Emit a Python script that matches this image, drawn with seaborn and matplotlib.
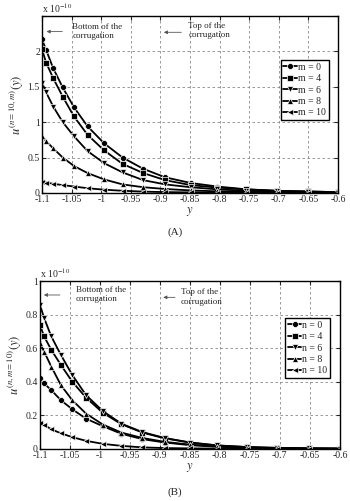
import numpy as np
import pandas as pd
import seaborn as sns
import matplotlib
matplotlib.use("Agg")
import matplotlib.pyplot as plt
from matplotlib.ticker import FuncFormatter, MultipleLocator

# grid nodes along y (same for every curve)
y_nodes = [-1.1, -1.093, -1.081, -1.065, -1.046, -1.023, -0.995, -0.964,
           -0.929, -0.892, -0.849, -0.804, -0.755, -0.704, -0.651, -0.6]

# panel A: u^(n=10,m)(y), units of 1e-10
m_labels = ["m = 0", "m = 4", "m = 6", "m = 8", "m = 10"]
u_m0 = [2.17, 2.02, 1.76, 1.49, 1.21, 0.94, 0.70, 0.50, 0.34, 0.22, 0.14, 0.09, 0.05, 0.03, 0.02, 0.01]
u_m4 = [2.03, 1.84, 1.62, 1.36, 1.08, 0.82, 0.60, 0.41, 0.28, 0.18, 0.11, 0.075, 0.05, 0.03, 0.02, 0.01]
u_m6 = [1.56, 1.42, 1.22, 1.00, 0.80, 0.59, 0.42, 0.29, 0.18, 0.12, 0.08, 0.05, 0.03, 0.02, 0.01, 0.005]
u_m8 = [0.81, 0.73, 0.63, 0.50, 0.38, 0.28, 0.19, 0.12, 0.08, 0.055, 0.035, 0.022, 0.013, 0.008, 0.004, 0.002]
u_m10 = [0.16, 0.146, 0.128, 0.11, 0.09, 0.066, 0.045, 0.03, 0.018, 0.011, 0.007, 0.004, 0.002, 0.001, 0.0007, 0.0004]

# panel B: u^(n,m=10)(y), units of 1e-10
n_labels = ["n = 0", "n = 4", "n = 6", "n = 8", "n = 10"]
u_n0 = [0.42, 0.39, 0.35, 0.29, 0.236, 0.18, 0.135, 0.09, 0.058, 0.038, 0.022, 0.013, 0.007, 0.004, 0.002, 0.001]
u_n4 = [0.74, 0.67, 0.59, 0.50, 0.40, 0.305, 0.215, 0.147, 0.097, 0.063, 0.037, 0.02, 0.011, 0.006, 0.003, 0.002]
u_n6 = [0.86, 0.78, 0.67, 0.56, 0.44, 0.32, 0.225, 0.15, 0.10, 0.065, 0.038, 0.021, 0.011, 0.006, 0.003, 0.002]
u_n8 = [0.63, 0.58, 0.49, 0.38, 0.29, 0.21, 0.145, 0.097, 0.065, 0.042, 0.025, 0.014, 0.008, 0.004, 0.002, 0.001]
u_n10 = [0.157, 0.143, 0.117, 0.093, 0.07, 0.048, 0.03, 0.018, 0.009, 0.005, 0.003, 0.002, 0.001, 0.0005, 0.0003, 0.0002]

markers = ["o", "s", "v", "^", "<"]

sns.set_style("ticks")
plt.rcParams["font.family"] = ["Liberation Serif", "DejaVu Serif"]
plt.rcParams["mathtext.fontset"] = "stix"
plt.rcParams["axes.unicode_minus"] = False


def make_df(labels, series, col):
    rows = []
    for lab, vals in zip(labels, series):
        for yy, uu in zip(y_nodes, vals):
            rows.append({"y": yy, "u": uu, col: lab})
    return pd.DataFrame(rows)


def draw(ax, df, col, labels, ymax, ystep, ylab, leg_top):
    sns.lineplot(data=df, x="y", y="u", style=col, style_order=labels,
                 markers=markers, dashes=False, color="k", linewidth=1.3,
                 markersize=4.3, markeredgewidth=0.5, sort=True, ax=ax)
    ax.set_xlim(-1.1, -0.6)
    ax.set_ylim(0, ymax)
    ax.xaxis.set_major_locator(MultipleLocator(0.05))
    ax.yaxis.set_major_locator(MultipleLocator(ystep))
    fmt = FuncFormatter(lambda v, p: "%g" % round(v, 3))
    ax.xaxis.set_major_formatter(fmt)
    ax.yaxis.set_major_formatter(fmt)
    ax.grid(True, linestyle=(0, (3, 3)), color="#888888", linewidth=0.6)
    ax.tick_params(direction="in", length=3, labelsize=7, pad=1.5,
                   top=True, right=True, width=0.8)
    for s in ax.spines.values():
        s.set_linewidth(1.0)
        s.set_color("k")
    ax.set_xlabel(r"$y$", fontsize=9, labelpad=1)
    ax.set_ylabel(ylab, fontsize=9, labelpad=1)
    ax.text(0.0, 1.005, r"x 10$^{-10}$", transform=ax.transAxes,
            fontsize=7, ha="left", va="bottom")
    h, l = ax.get_legend_handles_labels()
    leg = ax.legend(h, l, loc="upper right", bbox_to_anchor=(0.985, leg_top),
                    fontsize=7, handlelength=1.4, handletextpad=0.1,
                    labelspacing=0.25, borderpad=0.3, frameon=True,
                    fancybox=False, shadow=False, framealpha=1)
    leg.get_frame().set_edgecolor("k")
    leg.get_frame().set_linewidth(1.0)


fig = plt.figure(figsize=(3.5, 5.01), dpi=100)
axA = fig.add_axes([0.12, 0.615, 0.846, 0.353])
axB = fig.add_axes([0.114, 0.104, 0.857, 0.335])

dfA = make_df(m_labels, [u_m0, u_m4, u_m6, u_m8, u_m10], "m")
dfB = make_df(n_labels, [u_n0, u_n4, u_n6, u_n8, u_n10], "n")

draw(axA, dfA, "m", m_labels, 2.5, 0.5, r"$u^{(n=10,m)}(y)$", 0.78)
draw(axB, dfB, "n", n_labels, 1.0, 0.2, r"$u^{(n,m=10)}(y)$", 0.81)

# hide the 2.5 label under the multiplier in panel A
axA.set_yticks([0, 0.5, 1, 1.5, 2, 2.5])
axA.set_yticklabels(["0", "0.5", "1", "1.5", "2", ""])

arrow = dict(arrowstyle="-|>", color="#555555", lw=0.6, mutation_scale=5)
axA.annotate("", xy=(-1.097, 2.28), xytext=(-1.061, 2.28), arrowprops=arrow)
axA.text(-1.049, 2.28, "Bottom of the\ncorrugation", fontsize=6.5, va="center", ha="left")
axA.annotate("", xy=(-0.899, 2.27), xytext=(-0.86, 2.27), arrowprops=arrow)
axA.text(-0.853, 2.29, "Top of the\ncorrugation", fontsize=6.5, va="center", ha="left")

axB.annotate("", xy=(-1.098, 0.917), xytext=(-1.062, 0.917), arrowprops=arrow)
axB.text(-1.04, 0.92, "Bottom of the\ncorrugation", fontsize=6.5, va="center", ha="left")
axB.annotate("", xy=(-0.899, 0.903), xytext=(-0.87, 0.903), arrowprops=arrow)
axB.text(-0.865, 0.905, "Top of the\ncorrugation", fontsize=6.5, va="center", ha="left")

fig.text(0.5, 0.537, "(A)", ha="center", va="center", fontsize=8)
fig.text(0.5, 0.018, "(B)", ha="center", va="center", fontsize=8)

fig.savefig("out.png", dpi=100)
